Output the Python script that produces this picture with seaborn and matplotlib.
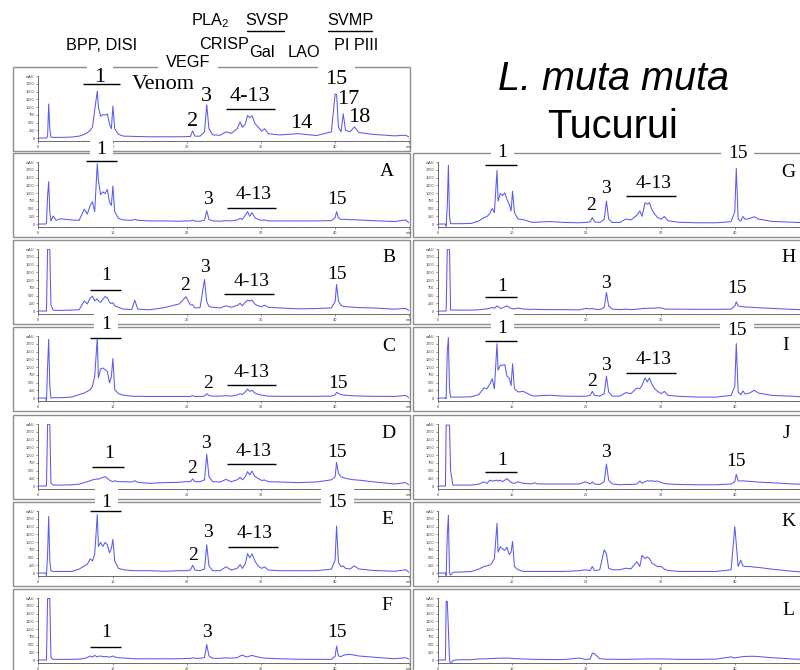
import matplotlib
matplotlib.use("Agg")
import matplotlib.pyplot as plt
import seaborn as sns
import pandas as pd
from matplotlib.lines import Line2D
from matplotlib.patches import Rectangle

sns.set_style("white")
plt.rcParams['font.family'] = ['Liberation Sans', 'DejaVu Sans']
plt.rcParams['mathtext.fontset'] = 'custom'
plt.rcParams['mathtext.rm'] = 'Liberation Sans'
plt.rcParams['text.color'] = 'black'

# ---------------- data (retention time grid, minutes) ----------------
time_min = [0, 1.0, 1.1, 1.25, 1.4, 1.55, 1.7, 2.0, 2.4, 3.0,
            4.5, 5.5, 6.2, 6.6, 7.0, 7.3, 7.6, 7.95, 8.1, 8.4,
            8.7, 9.0, 9.3, 9.6, 9.85, 10.05, 10.3, 10.8, 11.5, 12.6, 13, 13.4,
            15, 17, 19, 19.9, 20.5, 20.8, 21.1, 21.8, 22.4, 22.7,
            23.0, 23.5, 24.5, 25.3, 26.0, 26.8, 27.2, 27.5, 27.9, 28.2,
            28.5, 28.8, 29.2, 29.6, 30.1, 30.5, 31, 32.5, 35, 37.5,
            39.5, 40.0, 40.2, 40.45, 40.8, 41.1, 41.4, 42.0, 42.6, 43.2,
            45, 48, 49.5, 50]

# absorbance traces (mAU)
venom = [0, 0, 0, 50, 1100, 300, 30, 20, 20, 20,
         30, 60, 120, 170, 250, 350, 900, 1520, 1000, 700,
         760, 740, 780, 450, 300, 1030, 300, 120, 60, 55, 50, 50,
         40, 40, 40, 45, 50, 230, 60, 60, 200, 1075,
         300, 100, 90, 200, 150, 300, 520, 350, 450, 730,
         660, 720, 470, 360, 220, 300, 140, 100, 140, 80,
         200, 1420, 1420, 350, 200, 780, 250, 200, 360, 180,
         120, 70, 90, 30]
trace_a = [0, 0, 20, 900, 1370, 400, 100, 260, 120, 170,
           130, 120, 480, 320, 600, 720, 400, 1950, 1400, 950,
           1040, 980, 1120, 700, 600, 1230, 400, 180, 130, 120, 150, 120,
           100, 100, 90, 100, 100, 130, 90, 90, 120, 430,
           150, 100, 90, 110, 100, 130, 180, 150, 280, 400,
           250, 370, 200, 150, 120, 130, 100, 100, 100, 100,
           110, 200, 400, 200, 150, 150, 150, 140, 140, 130,
           110, 80, 130, 30]
trace_b = [0, 0, 0, 2000, 2000, 2000, 200, 30, 20, 20,
           30, 40, 330, 230, 420, 480, 330, 390, 330, 280,
           380, 470, 430, 280, 240, 270, 170, 120, 60, 50, 350, 60,
           40, 110, 230, 460, 200, 200, 100, 110, 1020, 300,
           150, 120, 100, 170, 120, 180, 250, 170, 280, 350,
           320, 350, 220, 170, 140, 190, 120, 100, 70, 80,
           100, 300, 860, 320, 180, 150, 140, 130, 120, 110,
           100, 60, 85, 10]
trace_c = [0, 0, -100, 1000, 1900, 400, 0, 10, 10, 10,
           30, 110, 160, 215, 270, 380, 700, 1940, 650, 940,
           970, 920, 860, 490, 700, 1275, 270, 140, 90, 60, 55, 55,
           50, 50, 50, 50, 50, 80, 50, 50, 60, 140,
           80, 60, 60, 75, 60, 100, 140, 110, 200, 290,
           215, 250, 160, 120, 90, 80, 60, 55, 55, 55,
           60, 100, 180, 150, 110, 100, 90, 80, 70, 65,
           55, 50, 85, 0]
trace_d = [0, 0, 0, 2000, 2000, 2000, 100, 30, 30, 30,
           40, 60, 110, 140, 170, 200, 210, 230, 220, 250,
           280, 300, 250, 190, 160, 140, 170, 140, 140, 130, 170, 120,
           85, 110, 120, 140, 140, 230, 140, 140, 200, 1030,
           300, 140, 130, 215, 140, 200, 280, 200, 300, 465,
           360, 485, 300, 250, 180, 195, 140, 130, 110, 130,
           200, 300, 760, 410, 300, 270, 250, 220, 200, 190,
           140, 65, 110, 30]
trace_e = [0, 0, -80, 600, 1830, 400, 75, 50, 50, 50,
           50, 125, 230, 280, 460, 390, 600, 1890, 860, 990,
           860, 990, 915, 650, 800, 1090, 390, 150, 105, 80, 75, 75,
           75, 55, 75, 75, 95, 250, 95, 75, 130, 915,
           230, 75, 75, 200, 95, 150, 275, 150, 300, 630,
           490, 620, 390, 230, 150, 200, 95, 75, 75, 75,
           125, 420, 1520, 340, 210, 230, 150, 130, 230, 130,
           85, 55, 105, 20]
trace_f = [0, 0, 0, 1990, 1990, 1990, 80, 20, 20, 20,
           20, 30, 50, 80, 130, 90, 150, 100, 120, 130,
           110, 110, 110, 90, 110, 130, 100, 75, 65, 45, 40, 40,
           40, 40, 40, 50, 50, 75, 55, 55, 80, 500,
           130, 55, 55, 70, 60, 75, 130, 160, 110, 100,
           130, 150, 120, 100, 75, 60, 55, 40, 25, 20,
           20, 120, 450, 130, 110, 150, 170, 180, 160, 130,
           95, 40, 75, 20]
trace_g = [0, 0, -70, 580, 1900, 250, 10, 10, 10, 10,
           20, 100, 210, 240, 350, 500, 370, 1730, 740, 990,
           920, 1010, 795, 640, 425, 1060, 370, 160, 140, 60, 55, 60,
           80, 50, 40, 50, 70, 210, 70, 50, 150, 740,
           160, 50, 50, 160, 130, 285, 425, 250, 690, 640,
           690, 475, 320, 210, 160, 245, 105, 55, 40, 40,
           75, 400, 1800, 160, 90, 245, 150, 180, 235, 160,
           85, 55, 40, 40]
trace_h = [0, 0, 0, 2000, 2000, 2000, 30, 30, 30, 30,
           30, 40, 60, 70, 95, 115, 90, 165, 145, 85,
           100, 140, 165, 115, 90, 70, 70, 95, 65, 50, 60, 50,
           45, 45, 35, 85, 65, 85, 60, 45, 115, 600,
           165, 60, 45, 60, 45, 60, 65, 80, 85, 85,
           90, 95, 90, 105, 100, 65, 60, 60, 55, 55,
           60, 165, 300, 165, 145, 140, 130, 125, 115, 105,
           85, 50, 40, 40]
trace_i = [0, 0, -20, 1500, 1950, 300, 30, 30, 30, 30,
           40, 110, 325, 300, 460, 625, 300, 1760, 900, 1060,
           1060, 1080, 700, 650, 400, 1110, 300, 195, 215, 80, 65, 70,
           90, 60, 55, 60, 85, 215, 85, 65, 140, 700,
           195, 60, 60, 175, 140, 325, 300, 410, 650, 520,
           650, 460, 300, 215, 140, 215, 85, 55, 30, 30,
           85, 380, 1760, 195, 110, 225, 130, 160, 250, 160,
           85, 55, 30, 30]
trace_j = [0, 0, 1970, 1970, 1970, 1970, 500, 30, 30, 30,
           30, 60, 135, 85, 190, 160, 170, 190, 160, 190,
           140, 190, 240, 170, 115, 100, 85, 135, 85, 70, 105, 70,
           65, 65, 65, 135, 65, 135, 65, 50, 140, 710,
           190, 65, 40, 50, 50, 65, 160, 90, 140, 170,
           160, 170, 150, 160, 110, 85, 65, 50, 40, 40,
           65, 140, 380, 170, 160, 170, 160, 150, 140, 125,
           105, 65, 50, 40]
trace_k = [0, 0, -80, 1230, 1870, 0, -70, 20, 30, 30,
           50, 125, 210, 230, 260, 330, 470, 1610, 675, 850,
           780, 730, 830, 600, 675, 1020, 210, 105, 50, 50, 50, 50,
           50, 50, 75, 105, 75, 210, 75, 105, 750, 625,
           155, 105, 105, 155, 135, 365, 210, 570, 470, 520,
           470, 330, 260, 210, 210, 125, 85, 50, 50, 50,
           105, 1500, 940, 210, 415, 230, 210, 210, 190, 180,
           125, 50, 30, 30]
trace_l = [0, 0, 1900, 1900, 1000, 0, -130, -20, 0, 10,
           10, 35, 35, 40, 45, 50, 50, 55, 55, 60,
           60, 60, 65, 60, 55, 50, 45, 40, 35, 25, 20, 20,
           15, 15, 65, 20, 30, 220, 200, 40, 30, 25,
           25, 25, 20, 20, 25, 30, 30, 30, 35, 35,
           35, 35, 35, 35, 35, 35, 30, 20, 20, 30,
           100, 65, 80, 85, 100, 110, 115, 120, 120, 110,
           75, 30, 20, 20]

# peak labels: (text, retention time, mAU position, white background)
venom_labels = [("1", 8.3, 1944, True), ("Venom", 16.8, 1717, False), ("2", 20.8, 528, False),
                ("3", 22.7, 1338, False), ("4-13", 28.5, 1338, False), ("14", 35.5, 475, False),
                ("15", 40.2, 1900, True), ("17", 41.8, 1231, False), ("18", 43.3, 670, False)]
labels_a = [("1", 8.5, 2398, True), ("A", 46.95, 1695, False), ("3", 22.8, 778, False),
            ("4-13", 29.0, 940, False), ("15", 40.2, 800, False)]
labels_b = [("1", 9.2, 1134, False), ("B", 47.2, 1727, False), ("2", 19.8, 810, False),
            ("3", 22.5, 1404, False), ("4-13", 28.8, 950, False), ("15", 40.3, 1166, False)]
labels_c = [("1", 9.1, 2365, True), ("C", 47.2, 1662, False), ("2", 22.9, 454, False),
            ("4-13", 28.8, 820, False), ("15", 40.4, 475, False)]
labels_d = [("1", 9.6, 1059, False), ("D", 47.2, 1706, False), ("2", 20.7, 572, False),
            ("3", 22.6, 1361, False), ("4-13", 29.0, 1112, False), ("15", 40.3, 1080, False)]
labels_e = [("1", 9.2, 2290, True), ("15", 40.3, 2290, True), ("E", 47.0, 1717, False),
            ("2", 20.8, 560, False), ("3", 22.9, 1296, False), ("4-13", 29.2, 1264, False)]
labels_f = [("F", 46.95, 1760, False), ("1", 9.2, 897, False), ("3", 22.7, 875, False),
            ("15", 40.3, 875, False)]
labels_g = [("1", 8.7, 2323, True), ("15", 40.4, 2268, True), ("G", 47.2, 1675, False),
            ("2", 20.6, 593, False), ("3", 22.7, 1134, False), ("4-13", 29.0, 1296, False)]
labels_h = [("H", 47.2, 1727, False), ("1", 8.7, 800, False), ("3", 22.7, 897, False),
            ("15", 40.3, 735, False)]
labels_i = [("1", 8.7, 2236, True), ("15", 40.3, 2181, True), ("I", 46.8, 1695, False),
            ("2", 20.8, 529, False), ("3", 22.7, 1048, False), ("4-13", 29.0, 1231, False)]
labels_j = [("J", 47.0, 1706, False), ("1", 8.7, 821, False), ("3", 22.7, 1080, False),
            ("15", 40.2, 788, False)]
labels_k = [("K", 47.2, 1663, False)]
labels_l = [("L", 47.2, 1610, False)]

# fraction bars: (start, end, mAU)
venom_bars = [(6.0, 11.0, 1740), (25.3, 31.9, 950)]
bars_a = [(6.4, 10.6, 2051), (25.4, 32.0, 508)]
bars_b = [(7.0, 11.2, 670), (25.0, 31.8, 560)]
bars_c = [(7.0, 11.2, 1934), (25.4, 32.1, 421)]
bars_d = [(7.3, 11.5, 626), (25.4, 32.1, 713)]
bars_e = [(7.0, 11.2, 2018), (25.5, 32.3, 832)]
bars_f = [(7.0, 11.2, 411)]
bars_g = [(6.3, 10.6, 1912), (25.3, 32.1, 897)]
bars_h = [(6.3, 10.6, 444)]
bars_i = [(6.3, 10.6, 1837), (25.3, 32.1, 810)]
bars_j = [(6.3, 10.6, 443)]
bars_k = []
bars_l = []

y_ticks = [0, 250, 500, 750, 1000, 1250, 1500, 1750, 2000]
y_tick_labels = ["0", "250", "500", "750", "1000", "1250", "1500", "1750", "mAU"]
x_ticks = [0, 10, 20, 30, 40, 50]
x_tick_labels = ["0", "10", "20", "30", "40", "min"]

# ---------------- layout ----------------
W, H = 800, 670
fig = plt.figure(figsize=(8, 6.7), dpi=100)
fig.patch.set_facecolor("white")


def fx(x):
    return x / W


def fy(y):
    return 1 - y / H


ROW_TOP = [67, 153, 240, 327, 415, 502, 589]
LINE_COLOR = "#5a5af0"
SERIF = "Liberation Serif"


def make_panel(col, row, trace, labels, bars, size=14):
    assert len(trace) == len(time_min)
    top = ROW_TOP[row]
    if col == 0:
        f0, f1, a0 = 13, 409.5, 38.3
    else:
        f0, f1, a0 = 413, 810, 438
    fig.add_artist(Rectangle((fx(f0), fy(top + 84)), (f1 - f0) / W, 84 / H,
                             transform=fig.transFigure, fill=False,
                             edgecolor="#8e8e8e", lw=1.0, zorder=-5))
    ax = fig.add_axes([fx(a0), fy(top + 74.1), 371 / W, 64.9 / H])
    df = pd.DataFrame({"t": time_min, "mAU": trace})
    sns.lineplot(data=df, x="t", y="mAU", ax=ax, color=LINE_COLOR,
                 linewidth=0.75, sort=False, estimator=None, zorder=3.5)
    ax.set_xlim(0, 50)
    ax.set_ylim(-100, 2000)
    ax.patch.set_visible(False)
    ax.set_xlabel("")
    ax.set_ylabel("")
    for s in ["top", "right"]:
        ax.spines[s].set_visible(False)
    for s in ["left", "bottom"]:
        ax.spines[s].set_color("#555555")
        ax.spines[s].set_linewidth(0.6)
    ax.set_xticks(x_ticks)
    # the 50-min end of the right column lies past the figure edge
    ax.set_xticklabels(x_tick_labels if col == 0 else x_tick_labels[:-1] + [""])
    ax.set_xticks(list(range(0, 50, 2)), minor=True)
    ax.set_yticks(y_ticks)
    ax.set_yticklabels(y_tick_labels)
    ax.tick_params(which="major", labelsize=2.8, length=1.6, width=0.4,
                   pad=1, colors="#444444", bottom=True, left=True)
    ax.tick_params(which="minor", length=1.0, width=0.3, colors="#444444",
                   bottom=True)
    for (txt, t, y, boxed) in labels:
        kw = {}
        if boxed:
            kw["bbox"] = dict(boxstyle="square,pad=0.35", facecolor="white",
                              edgecolor="none")
        ax.text(t, y, txt, ha="center", va="center", fontsize=size,
                family=SERIF, clip_on=False, zorder=3, **kw)
    for (t0, t1, y) in bars:
        ax.hlines(y, t0, t1, color="black", lw=1.0, clip_on=False, zorder=4)
    return ax


make_panel(0, 0, venom, venom_labels, venom_bars, size=16)
left = [(trace_a, labels_a, bars_a), (trace_b, labels_b, bars_b),
        (trace_c, labels_c, bars_c), (trace_d, labels_d, bars_d),
        (trace_e, labels_e, bars_e), (trace_f, labels_f, bars_f)]
right = [(trace_g, labels_g, bars_g), (trace_h, labels_h, bars_h),
         (trace_i, labels_i, bars_i), (trace_j, labels_j, bars_j),
         (trace_k, labels_k, bars_k), (trace_l, labels_l, bars_l)]
for r, (tr, lb, br) in enumerate(left, start=1):
    make_panel(0, r, tr, lb, br)
for r, (tr, lb, br) in enumerate(right, start=1):
    make_panel(1, r, tr, lb, br)

# ---------------- header (toxin families) ----------------
HDR = 11.7
header = [("BPP, DISI", 102, 50, False), ("VEGF", 188, 66.7, True),
          (r"PLA$_{\mathrm{2}}$", 210, 25, False), ("CRISP", 224, 49.3, False),
          ("SVSP", 267, 25, False), ("Gal", 262, 57.3, False), ("LAO", 304, 57.3, False),
          ("SVMP", 350, 25, False), ("PI PIII", 356, 50, False)]
for (txt, x, y, boxed) in header:
    kw = {}
    if boxed:
        kw["bbox"] = dict(boxstyle="square,pad=0.45", facecolor="white", edgecolor="none")
    fig.text(fx(x), fy(y), txt, ha="center", va="baseline", fontsize=HDR,
             family="Liberation Sans", zorder=6, **kw)
for (x0, x1) in [(247, 284), (328, 372)]:
    fig.add_artist(Line2D([fx(x0), fx(x1)], [fy(30.7), fy(30.7)], color="black",
                          lw=1.0, transform=fig.transFigure))

fig.text(fx(613), fy(90), "L. muta muta", ha="center", va="baseline", fontsize=28.5,
         style="italic", family="Liberation Sans")
fig.text(fx(612), fy(138.3), "Tucurui", ha="center", va="baseline", fontsize=28.5,
         family="Liberation Sans")

fig.savefig("out.png", dpi=100)
